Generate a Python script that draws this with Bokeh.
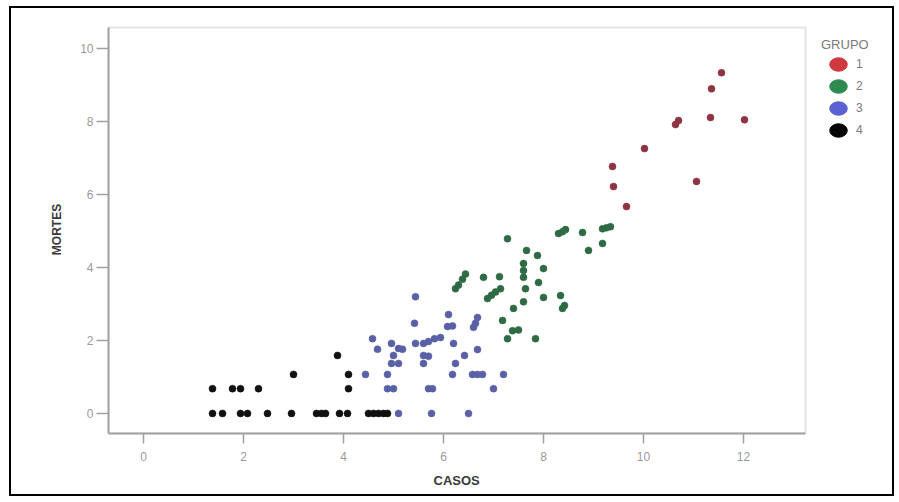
from bokeh.plotting import figure
from bokeh.models import Range1d, FixedTicker, Legend, LegendItem, BoxAnnotation, Title
from bokeh.embed import file_html
from bokeh.resources import INLINE

# ---- data ----
grupos = ["1", "2", "3", "4"]

casos_1 = [9.38, 9.40, 9.66, 10.02, 10.64, 10.70, 11.06, 11.34, 11.36, 11.56, 12.02]
mortes_1 = [6.77, 6.22, 5.67, 7.26, 7.92, 8.03, 6.36, 8.11, 8.90, 9.34, 8.05]

casos_2 = [6.24, 6.30, 6.38, 6.44, 6.80, 7.12, 6.88, 6.96, 7.04, 7.14,
           7.28, 7.18, 7.28, 7.38, 7.50, 7.40, 7.60,
           7.64, 7.60, 7.60, 7.60, 7.66, 7.88, 8.00, 7.90, 8.00, 7.84,
           8.34, 8.38, 8.42,
           8.30, 8.38, 8.44, 8.78, 8.90, 9.18, 9.18, 9.26, 9.34]
mortes_2 = [3.42, 3.52, 3.68, 3.82, 3.73, 3.75, 3.15, 3.24, 3.33, 3.42,
            4.79, 2.55, 2.05, 2.27, 2.29, 2.88, 3.06,
            3.42, 3.73, 3.92, 4.11, 4.47, 4.33, 3.97, 3.59, 3.18, 2.05,
            3.23, 2.88, 2.96,
            4.93, 4.98, 5.04, 4.96, 4.47, 4.66, 5.06, 5.09, 5.12]

casos_3 = [4.44, 4.88, 4.88, 5.00, 5.10, 5.76, 6.50,
           4.58, 4.68, 4.96, 5.10, 5.18, 5.00, 4.96, 5.10,
           5.44, 5.42, 5.44, 5.60, 5.70, 5.82, 5.94,
           5.60, 5.70, 5.60, 5.70, 5.78,
           6.10, 6.08, 6.18, 6.20, 6.42, 6.24, 6.18,
           6.58, 6.68, 6.78, 7.20, 7.00,
           6.68, 6.64, 6.60, 6.68]
mortes_3 = [1.07, 1.07, 0.68, 0.68, 0.00, 0.00, 0.00,
            2.05, 1.76, 1.92, 1.78, 1.76, 1.59, 1.37, 1.37,
            3.20, 2.47, 1.92, 1.92, 1.97, 2.05, 2.08,
            1.59, 1.57, 1.37, 0.68, 0.68,
            2.71, 2.38, 2.40, 1.92, 1.59, 1.37, 1.07,
            1.07, 1.07, 1.07, 1.07, 0.68,
            2.63, 2.47, 2.36, 1.75]

casos_4 = [1.38, 1.58, 1.94, 2.08, 2.48, 2.96, 3.46, 3.56, 3.64, 3.92, 4.08,
           4.50, 4.60, 4.70, 4.80, 4.88,
           1.38, 1.78, 1.94, 2.30, 4.10,
           3.00, 4.10, 3.88]
mortes_4 = [0.0] * 16 + [0.68] * 5 + [1.07, 1.07, 1.59]

x_ticks = [0, 2, 4, 6, 8, 10, 12]
y_ticks = [0, 2, 4, 6, 8, 10]

series = [
    (casos_1, mortes_1, "#8e3342", "#d0393f"),
    (casos_2, mortes_2, "#2e6b45", "#2f8a50"),
    (casos_3, mortes_3, "#5a60a6", "#5b60d2"),
    (casos_4, mortes_4, "#111111", "#050505"),
]

# ---- layout constants (pixels / axis extents) ----
OX, OY = 11, 8            # canvas origin on the page (margin 9/6 + 2px border)
W, H = 885, 490
PX_X = 50.0               # pixels per unit, x
PX_Y = 36.5               # pixels per unit, y
X_LO, X_HI = -0.7, 13.24  # visible plot box (data extent)
Y_LO, Y_HI = -0.55, 10.58
FRAME_TOP = 25            # page px, 2px above the plot box so its border is not clipped
x_end = X_LO + (OX + W - 108) / PX_X
y_end = Y_HI + (27 - FRAME_TOP) / PX_Y

p = figure(width=W, height=H, output_backend="svg", toolbar_location=None,
           x_range=Range1d(X_LO, x_end), y_range=Range1d(Y_LO, y_end),
           min_border_left=108 - OX, min_border_right=0,
           min_border_top=FRAME_TOP - OY, min_border_bottom=H - (433 - OY))
p.styles = {"border": "2px solid #000000", "margin": "6px 0px 0px 9px"}
p.background_fill_color = "white"
p.border_fill_color = "white"
p.outline_line_color = None
p.xgrid.visible = False
p.ygrid.visible = False

# grey box of the plotting area
p.add_layout(BoxAnnotation(left=X_LO, right=X_HI, bottom=Y_LO, top=Y_HI,
                           fill_alpha=0, line_color="#a8a8a8", line_width=2))

for ax, ticks in ((p.xaxis[0], x_ticks), (p.yaxis[0], y_ticks)):
    ax.ticker = FixedTicker(ticks=ticks)
    ax.axis_label_text_font = "Liberation Sans"
    ax.axis_label_text_font_style = "bold"
    ax.axis_label_text_font_size = "12px"
    ax.axis_label_text_color = "#3a3a3a"
    ax.major_label_text_font = "Liberation Sans"
    ax.major_label_text_font_size = "12px"
    ax.major_label_text_color = "#9a9a9a"
    ax.axis_line_color = "#a0a0a0"
    ax.axis_line_width = 2
    ax.major_tick_line_color = "#a0a0a0"
    ax.major_tick_line_width = 1.5
    ax.major_tick_in = 0
    ax.minor_tick_line_color = None

p.yaxis.axis_label = "MORTES"
p.xaxis.bounds = (X_LO, X_HI)
p.yaxis.bounds = (Y_LO, Y_HI)
p.xaxis.major_tick_out = 10
p.xaxis.major_label_standoff = 8
p.yaxis.major_tick_out = 12
p.yaxis.major_label_standoff = 3
p.yaxis.axis_label_standoff = 13

# x-axis title, centred under the grey plot box (not under the wider frame)
box_centre_offset = int(((X_HI - X_LO) * PX_X) / 2)
p.add_layout(Title(text="CASOS", align="left", offset=box_centre_offset - 23,
                   text_font="Liberation Sans", text_font_style="bold",
                   text_font_size="13px", text_color="#3a3a3a", standoff=15),
             "below")

items = []
for (xs, ys, dot_col, leg_col), g in zip(series, grupos):
    p.scatter(xs, ys, size=7, marker="circle", fill_color=dot_col,
              line_color=dot_col, line_width=0.5)
    # legend key only (no position on the plot: NaN)
    r_leg = p.ellipse(x=[float("nan")], y=[float("nan")], width=17, height=13,
                      width_units="screen", height_units="screen",
                      fill_color=leg_col, line_color=leg_col)
    items.append(LegendItem(label=g, renderers=[r_leg]))

legend = Legend(items=items, title="GRUPO", location=(821 - 108, 433 - 141),
                glyph_width=34, glyph_height=22, spacing=0,
                padding=0, margin=0, label_standoff=1, label_height=22,
                border_line_color=None, background_fill_alpha=0,
                title_text_font="Liberation Sans", title_text_font_size="13px",
                title_text_font_style="normal",
                title_text_color="#7a7a7a", title_standoff=1,
                label_text_font="Liberation Sans", label_text_font_size="12px",
                label_text_color="#7a7a7a")
p.add_layout(legend, "center")

open("out.html", "w").write(file_html(p, INLINE))
